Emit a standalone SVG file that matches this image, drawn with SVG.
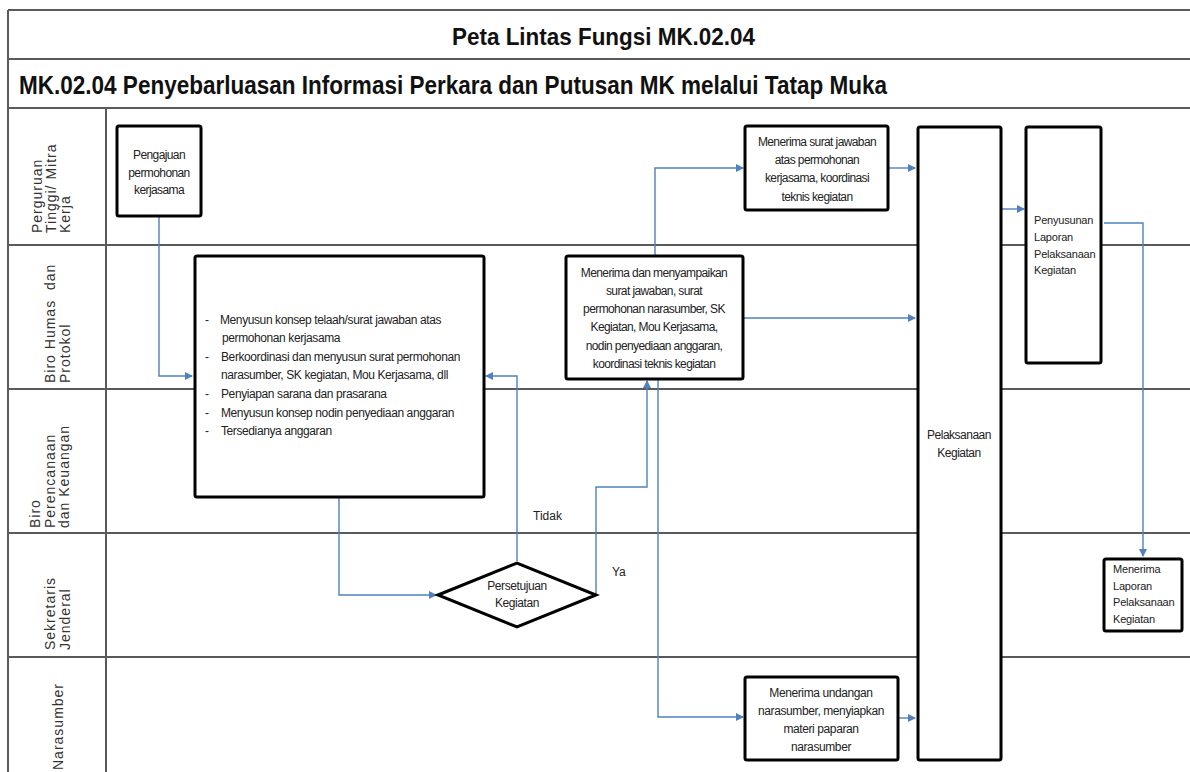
<svg xmlns="http://www.w3.org/2000/svg" width="1190" height="772" viewBox="0 0 1190 772">
<style>
.frame{stroke:#5a5a5a;stroke-width:2;fill:none}
.box{fill:#fff;stroke:#000;stroke-width:3}
.conn{fill:none;stroke:#4f81bd;stroke-width:1.4}
.t{font-family:"Liberation Sans",Arial,sans-serif;fill:#222}
.bx{font-size:12px;letter-spacing:-0.6px;text-anchor:middle}
.bl{font-size:12px;letter-spacing:-0.4px}
.sm{font-size:11px;letter-spacing:-0.2px}
.lane{font-size:14px;letter-spacing:1px;fill:#333}
.title{font-family:"Liberation Sans",Arial,sans-serif;font-weight:bold;fill:#111}
</style>
<defs>
<marker id="arr" viewBox="0 0 8 8" refX="7" refY="4" markerWidth="8" markerHeight="8" markerUnits="userSpaceOnUse" orient="auto">
<path d="M0,0 L8,4 L0,8 Z" fill="#4f81bd"/>
</marker>
</defs>
<rect width="1190" height="772" fill="#fff"/>
<g id="frame">
<line class="frame" x1="8" y1="10" x2="1190" y2="10"/>
<line class="frame" x1="8" y1="59" x2="1190" y2="59"/>
<line class="frame" x1="8" y1="108" x2="1190" y2="108"/>
<line class="frame" x1="8" y1="245" x2="1190" y2="245"/>
<line class="frame" x1="8" y1="389" x2="1190" y2="389"/>
<line class="frame" x1="8" y1="533" x2="1190" y2="533"/>
<line class="frame" x1="8" y1="657" x2="1190" y2="657"/>
<line class="frame" x1="8" y1="10" x2="8" y2="772"/>
<line class="frame" x1="106" y1="108" x2="106" y2="772"/>
<text class="title" x="452" y="45" font-size="24" textLength="303" lengthAdjust="spacingAndGlyphs">Peta Lintas Fungsi MK.02.04</text>
<text class="title" x="19" y="94" font-size="26" textLength="868" lengthAdjust="spacingAndGlyphs">MK.02.04 Penyebarluasan Informasi Perkara dan Putusan MK melalui Tatap Muka</text>
</g>
<g id="lanes">
<text class="t lane" transform="translate(42,233) rotate(-90)">Perguruan</text>
<text class="t lane" transform="translate(56,233) rotate(-90)">Tinggi/ Mitra</text>
<text class="t lane" transform="translate(70,233) rotate(-90)">Kerja</text>
<text class="t lane" transform="translate(55,383) rotate(-90)" xml:space="preserve">Biro Humas  dan</text>
<text class="t lane" transform="translate(70,383) rotate(-90)">Protokol</text>
<text class="t lane" transform="translate(40,528) rotate(-90)">Biro</text>
<text class="t lane" transform="translate(55,528) rotate(-90)">Perencanaan</text>
<text class="t lane" transform="translate(69,528) rotate(-90)">dan Keuangan</text>
<text class="t lane" transform="translate(55,650) rotate(-90)">Sekretaris</text>
<text class="t lane" transform="translate(70,650) rotate(-90)">Jenderal</text>
<text class="t lane" transform="translate(63,770) rotate(-90)">Narasumber</text>
</g>
<g id="connectors">
<path class="conn" d="M159,217 V376 H192" marker-end="url(#arr)"/>
<path class="conn" d="M339,497 V595 H436" marker-end="url(#arr)"/>
<path class="conn" d="M517,561 V376 H486" marker-end="url(#arr)"/>
<path class="conn" d="M596,595 V487 H647 V381" marker-end="url(#arr)"/>
<path class="conn" d="M655,255 V168 H743" marker-end="url(#arr)"/>
<path class="conn" d="M658,379 V717 H743" marker-end="url(#arr)"/>
<path class="conn" d="M743,318 H915" marker-end="url(#arr)"/>
<path class="conn" d="M888,168 H915" marker-end="url(#arr)"/>
<path class="conn" d="M898,718 H915" marker-end="url(#arr)"/>
<path class="conn" d="M1001,209 H1024" marker-end="url(#arr)"/>
<path class="conn" d="M1104,223 H1143 V556" marker-end="url(#arr)"/>
<text class="t" x="533" y="520" font-size="12">Tidak</text>
<text class="t" x="612" y="576" font-size="12">Ya</text>
</g>
<g id="pengajuan">
<rect class="box" x="117" y="126" width="84" height="90" rx="2"/>
<text class="t bx" x="159" y="159">Pengajuan</text>
<text class="t bx" x="159" y="177">permohonan</text>
<text class="t bx" x="159" y="194">kerjasama</text>
</g>
<g id="menyusun">
<rect class="box" x="195" y="256" width="289" height="241" rx="2"/>
<g class="t bl">
<text x="205" y="324">-</text><text x="220" y="324">Menyusun konsep telaah/surat jawaban atas</text>
<text x="222" y="342">permohonan kerjasama</text>
<text x="205" y="361">-</text><text x="221" y="361">Berkoordinasi dan menyusun surat permohonan</text>
<text x="221" y="379">narasumber, SK kegiatan, Mou Kerjasama, dll</text>
<text x="205" y="398">-</text><text x="221" y="398">Penyiapan sarana dan prasarana</text>
<text x="205" y="417">-</text><text x="221" y="417">Menyusun konsep nodin penyediaan anggaran</text>
<text x="205" y="435">-</text><text x="221" y="435">Tersedianya anggaran</text>
</g>
</g>
<g id="persetujuan">
<polygon points="438,595 517,563 596,595 517,627" fill="#fff" stroke="#000" stroke-width="3" stroke-linejoin="miter"/>
<text class="t bx" x="517" y="590" style="letter-spacing:-0.4px">Persetujuan</text>
<text class="t bx" x="517" y="607" style="letter-spacing:-0.4px">Kegiatan</text>
</g>
<g id="menyampaikan">
<rect class="box" x="566" y="256" width="177" height="123" rx="2"/>
<text class="t bx" x="654" y="277">Menerima dan menyampaikan</text>
<text class="t bx" x="654" y="295">surat jawaban, surat</text>
<text class="t bx" x="654" y="313">permohonan narasumber, SK</text>
<text class="t bx" x="654" y="331">Kegiatan, Mou Kerjasama,</text>
<text class="t bx" x="654" y="350">nodin penyediaan anggaran,</text>
<text class="t bx" x="654" y="368">koordinasi teknis kegiatan</text>
</g>
<g id="suratjawaban">
<rect class="box" x="745" y="126" width="143" height="84" rx="2"/>
<text class="t bx" x="817" y="146">Menerima surat jawaban</text>
<text class="t bx" x="817" y="164">atas permohonan</text>
<text class="t bx" x="817" y="182">kerjasama, koordinasi</text>
<text class="t bx" x="817" y="201">teknis kegiatan</text>
</g>
<g id="undangan">
<rect class="box" x="745" y="677" width="153" height="83" rx="2"/>
<text class="t bx" x="821" y="697" style="letter-spacing:-0.4px">Menerima undangan</text>
<text class="t bx" x="821" y="715" style="letter-spacing:-0.4px">narasumber, menyiapkan</text>
<text class="t bx" x="821" y="733" style="letter-spacing:-0.4px">materi paparan</text>
<text class="t bx" x="821" y="751" style="letter-spacing:-0.4px">narasumber</text>
</g>
<g id="pelaksanaan">
<rect class="box" x="918" y="127" width="83" height="633" rx="2"/>
<text class="t bx" x="959" y="439" style="letter-spacing:-0.5px">Pelaksanaan</text>
<text class="t bx" x="959" y="457" style="letter-spacing:-0.5px">Kegiatan</text>
</g>
<g id="penyusunan">
<rect class="box" x="1026" y="127" width="75" height="236" rx="2"/>
<text class="t sm" x="1034" y="224">Penyusunan</text>
<text class="t sm" x="1034" y="241">Laporan</text>
<text class="t sm" x="1034" y="258">Pelaksanaan</text>
<text class="t sm" x="1034" y="274">Kegiatan</text>
</g>
<g id="menerimalaporan">
<rect class="box" x="1104" y="559" width="78" height="72" rx="2"/>
<text class="t sm" x="1113" y="573">Menerima</text>
<text class="t sm" x="1113" y="590">Laporan</text>
<text class="t sm" x="1113" y="606">Pelaksanaan</text>
<text class="t sm" x="1113" y="623">Kegiatan</text>
</g>
</svg>
